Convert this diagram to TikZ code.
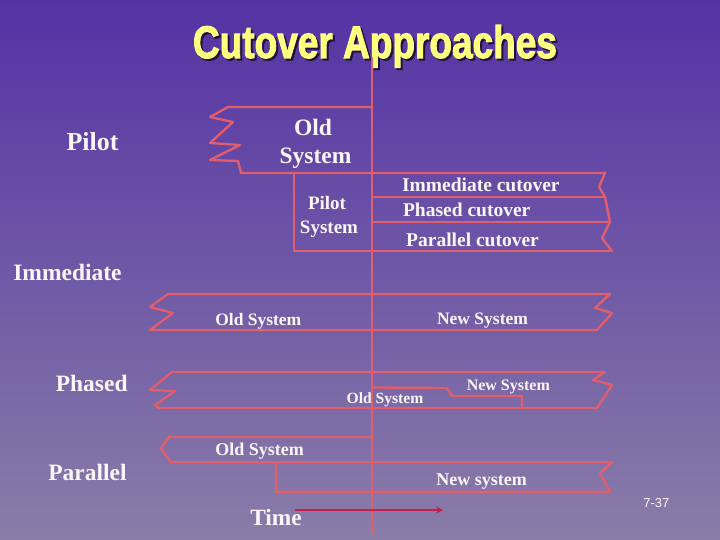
\documentclass[tikz,border=0pt]{standalone}
\usepackage{fontspec}
\usepackage{graphicx}
\setmainfont{Liberation Serif}
\newfontfamily\titlefont{Liberation Sans}[BoldFeatures={FakeBold=2.5}]
\newfontfamily\pagefont{Liberation Sans}
\usetikzlibrary{arrows.meta}
\definecolor{bgtop}{RGB}{84,50,164}
\definecolor{bgbot}{RGB}{138,125,168}
\definecolor{linered}{RGB}{226,94,108}
\definecolor{txt}{RGB}{250,246,250}
\definecolor{titleyellow}{RGB}{255,255,128}
\definecolor{shadowc}{RGB}{30,18,60}
\definecolor{timered}{RGB}{200,30,72}
\tikzset{
  ln/.style={draw=linered, line width=2.3pt, line join=round, line cap=round},
  lbl/.style={text=txt, inner sep=0pt, anchor=base},
}
\newcommand{\fsz}[1]{\fontsize{#1}{#1}\selectfont\bfseries}
\newcommand{\titletext}{\resizebox{364pt}{33pt}{\titlefont\bfseries Cutover Approaches}}
\begin{document}
\begin{tikzpicture}[x=1pt,y=-1pt]
\useasboundingbox (0,0) rectangle (720,540);
\shade[top color=bgtop, bottom color=bgbot] (0,0) rectangle (720,540);

% title with shadow (one node)
\node[inner sep=0pt, anchor=base] (title) at (375,58)
  {\rlap{\hspace{2pt}\raisebox{-2pt}{\color{shadowc}\titletext}}\color{titleyellow}\titletext};

% time axis
\coordinate (axtop) at (372,58);
\coordinate (axbot) at (372,533);
\draw[ln] (axtop) -- (axbot);

% ---- Pilot ----
\draw[ln] (372,107) -- (228,107) -- (210,117) -- (233,122) -- (210,143)
  -- (240,145) -- (210,160) -- (238,161) -- (241,173) -- (605,173)
  -- (599,187) -- (605,197) -- (610,222) -- (602,238) -- (612,251);
\draw[ln] (372,197) -- (605,197);
\draw[ln] (372,222) -- (610,222);
\draw[ln] (294,173) -- (294,251) -- (612,251);

\node[lbl, font=\fsz{26}] (lpilot) at (92.5,151) {Pilot};
\node[lbl, font=\fsz{23.5}] (posold1) at (313,135.7) {Old};
\node[lbl, font=\fsz{23.5}] (posold2) at (315.5,164) {System};
\node[lbl, font=\fsz{19}] (pps1) at (327,210) {Pilot};
\node[lbl, font=\fsz{19}] (pps2) at (329,233.3) {System};
\node[lbl, font=\fsz{19.5}] (pic) at (480.8,191.7) {Immediate cutover};
\node[lbl, font=\fsz{19.5}] (ppc) at (466.7,216) {Phased cutover};
\node[lbl, font=\fsz{19.5}] (ppar) at (472.5,246) {Parallel cutover};

% ---- Immediate ----
\draw[ln] (168,294) -- (610,294) -- (595,308) -- (612,313) -- (597,330)
  -- (150,330) -- (173,313) -- (150,307) -- cycle;
\node[lbl, font=\fsz{23.5}] (limm) at (67.5,280.7) {Immediate};
\node[lbl, font=\fsz{17.5}] (imold) at (258.3,325) {Old System};
\node[lbl, font=\fsz{17.5}] (imnew) at (482.5,324.3) {New System};

% ---- Phased ----
\draw[ln] (172,372) -- (605,372) -- (593,380) -- (612,385) -- (597,408)
  -- (159,408) -- (155,405) -- (175,391) -- (150,390) -- cycle;
\draw[ln] (372,387.5) -- (447,388) -- (452,396) -- (522,396) -- (522,408);
\node[lbl, font=\fsz{23.5}] (lpha) at (91.7,391.7) {Phased};
\node[lbl, font=\fsz{15.6}] (phold) at (385,403.3) {Old System};
\node[lbl, font=\fsz{16}] (phnew) at (508.3,390) {New System};

% ---- Parallel ----
\draw[ln] (372,437) -- (169,437) -- (161,448.5) -- (171,462.3) -- (612,462.3)
  -- (600,473) -- (610,491.7) -- (276,491.7) -- (276,462.3);
\node[lbl, font=\fsz{23.5}] (lpar) at (87.5,480.7) {Parallel};
\node[lbl, font=\fsz{18}] (paold) at (259.6,455.5) {Old System};
\node[lbl, font=\fsz{18}] (panew) at (481.7,485.5) {New system};

% ---- Time ----
\coordinate (ts) at (295,510);
\coordinate (te) at (443,510);
\draw[draw=timered, line width=2.4pt, -{Stealth[length=7pt,width=7pt]}] (ts) -- (te);
\node[lbl, font=\fsz{23.3}] (time) at (276,525.5) {Time};

\node[lbl, font=\pagefont\fontsize{13}{13}\selectfont] (pg) at (656.3,507.3) {7-37};
\end{tikzpicture}
\end{document}
